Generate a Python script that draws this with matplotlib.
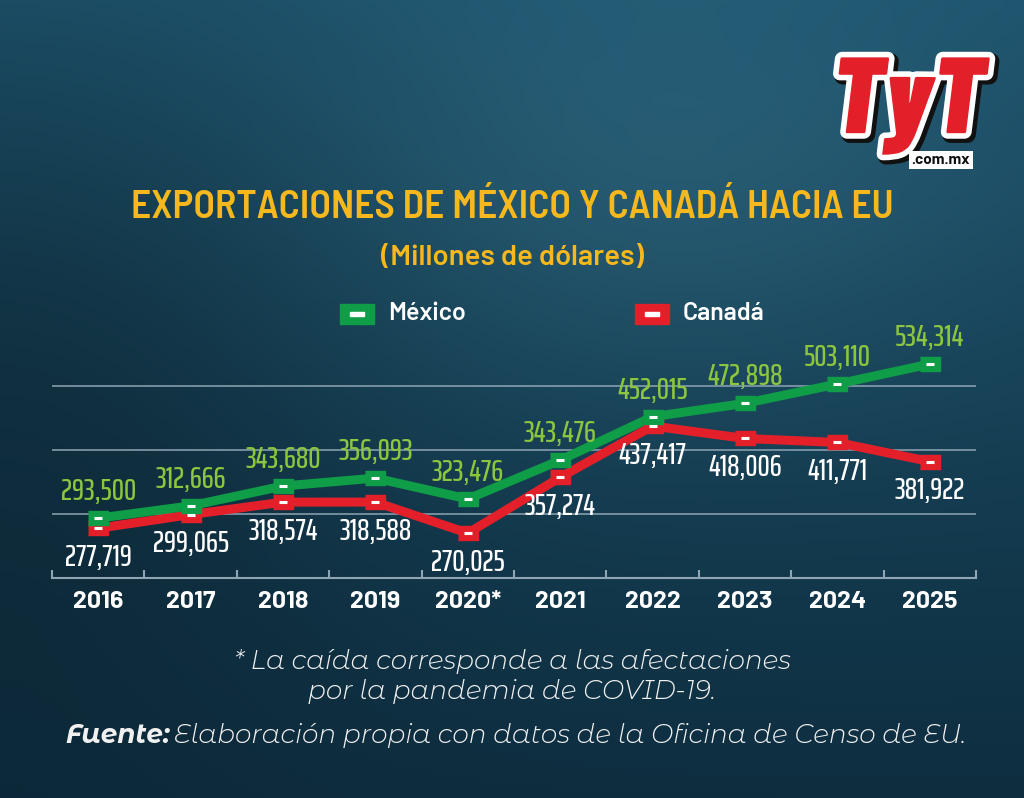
"""Exportaciones de México y Canadá hacia EU (line chart recreation)."""

from matplotlib import pyplot
from matplotlib import patheffects
from matplotlib.patches import Rectangle
import numpy

years = ['2016', '2017', '2018', '2019', '2020*', '2021', '2022', '2023',
         '2024', '2025']
# plotted positions (2021 Mexico point sits near 384k
# although its label reads 343,476)
mexico = [293500, 312666, 343680, 356093, 323476, 384000, 452015, 472898,
          503110, 534314]
mexico_labels = ['293,500', '312,666', '343,680', '356,093', '323,476',
                 '343,476', '452,015', '472,898', '503,110', '534,314']
canada = [277719, 299065, 318574, 318588, 270025, 357274, 437417, 418006,
          411771, 381922]
canada_labels = ['277,719', '299,065', '318,574', '318,588', '270,025',
                 '357,274', '437,417', '418,006', '411,771', '381,922']
gridlines = [300000, 400000, 500000]

green = '#0f9d47'
green_text = '#8cc63f'
red = '#e3202a'
yellow = '#f6b81c'
grid_color = '#8fa5b3'
xnarrow = ['Saira ExtraCondensed', 'Barlow Condensed', 'DejaVu Sans']
narrow = ['Barlow Semi Condensed', 'Barlow Condensed', 'DejaVu Sans']
din = ['Barlow', 'Roboto', 'DejaVu Sans']
gothic = ['Montserrat Alternates', 'Lato', 'DejaVu Sans']

W, H = 1024, 798
fig = pyplot.figure(figsize=(W / 100, H / 100), dpi=100)

# Background gradient.
bg = fig.add_axes([0, 0, 1, 1])
bg.set_axis_off()
yy, xx = numpy.mgrid[0:1:200j, 0:1:256j]
top = numpy.array([0x1d, 0x52, 0x6b]) / 255
bottom = numpy.array([0x0e, 0x2e, 0x40]) / 255
t = yy[..., None] ** 0.9
img = top * (1 - t) + bottom * t
glow = numpy.exp(-(((xx - 0.65) / 0.35) ** 2 + ((yy - 0.22) / 0.30) ** 2))
img = img + glow[..., None] * numpy.array([0.05, 0.07, 0.07])
img = img * (1 - 0.25 * numpy.exp(-(((xx - 0.0) / 0.35) ** 2
                                   + ((yy - 0.55) / 0.5) ** 2)))[..., None]
bg.imshow(numpy.clip(img, 0, 1), extent=[0, 1, 0, 1], aspect='auto',
          origin='upper')
bg.set_xlim(0, 1)
bg.set_ylim(0, 1)

# Main chart axes.
ax = fig.add_axes([52 / W, 1 - 578 / H, (976 - 52) / W, (578 - 322) / H])
ax.patch.set_alpha(0)
x = numpy.arange(len(years))
ax.set_xlim(-0.5, len(years) - 0.5)
ax.set_ylim(200000, 600000)
for g in gridlines:
    ax.axhline(g, color=grid_color, lw=1.1, zorder=1)

box = [(-1.5, -1), (1.5, -1), (1.5, 1), (-1.5, 1)]
for vals, color in [(canada, red), (mexico, green)]:
    ax.plot(x, vals, color=color, lw=6.5, solid_joinstyle='miter', zorder=3)
    ax.plot(x, vals, ls='none', marker=box, ms=15, mfc=color, mec=color,
            zorder=4)
    ax.plot(x, vals, ls='none', marker='_', ms=5.5, mew=2.2, color='white',
            zorder=5)

for xi, m, ml, c, cl in zip(x, mexico, mexico_labels, canada, canada_labels):
    ax.annotate(ml, (xi, m), xytext=(0, 19), textcoords='offset points',
                ha='center', va='center', color=green_text, fontsize=22,
                family=xnarrow, fontweight=500, zorder=6)
    ax.annotate(cl, (xi, c), xytext=(0, -21),
                textcoords='offset points', ha='center', va='center',
                color='white', fontsize=22, family=xnarrow, fontweight=500,
                zorder=6)

for side in ['left', 'right', 'top']:
    ax.spines[side].set_visible(False)
ax.spines['bottom'].set_color(grid_color)
ax.spines['bottom'].set_linewidth(1.5)
ax.set_yticks([])
ax.set_xticks(x)
ax.set_xticklabels(years, color='white', fontsize=18, fontweight='bold',
                   family=din)
ax.tick_params(axis='x', which='major', length=0, pad=9)
ax.set_xticks(numpy.arange(-0.5, len(years)), minor=True)
ax.tick_params(axis='x', which='minor', direction='in', length=6,
               width=1.5, color=grid_color)

# Titles.
fig.text(0.5, 1 - 208 / H, 'EXPORTACIONES DE MÉXICO Y CANADÁ HACIA EU',
         ha='center', va='center', color=yellow, fontsize=28.5,
         fontweight=600, family=narrow)
fig.text(0.5, 1 - 257 / H, '(Millones de dólares)', ha='center',
         va='center', color=yellow, fontsize=21, fontweight=600,
         family=din)

# Legend.
for x0, color, label in [(340, green, 'México'), (635, red, 'Canadá')]:
    fig.patches.append(Rectangle((x0 / W, 1 - 324 / H), 34 / W, 20 / H,
                                 transform=fig.transFigure, color=color))
    fig.patches.append(Rectangle(((x0 + 10) / W, 1 - 315.5 / H), 14 / W,
                                 4 / H, transform=fig.transFigure,
                                 color='white'))
    fig.text((x0 + 48) / W, 1 - 314 / H, label, ha='left', va='center',
             color='white', fontsize=18, fontweight=600, family=din)

# Footnote.
foot = dict(va='center', color='#f0f0f0', fontsize=19, style='italic',
            family=gothic)
fig.text(0.5, 1 - 662 / H, '* La caída corresponde a las afectaciones',
         ha='center', fontweight=300, **foot)
fig.text(0.5, 1 - 692 / H, 'por la pandemia de COVID-19.', ha='center',
         fontweight=300, **foot)
fig.text(174 / W, 1 - 735 / H,
         'Elaboración propia con datos de la Oficina de Censo de EU.',
         ha='left', fontweight=300, **foot)
fig.text(170 / W, 1 - 735 / H, 'Fuente:', ha='right', fontweight='bold',
         **foot)

# Logo.
logo = fig.text(908 / W, 1 - 106 / H, 'TyT', ha='center', va='center',
                color='#e3202a', fontsize=78, fontweight=900,
                style='italic', family=['Barlow Condensed', 'DejaVu Sans'])
logo.set_path_effects([
    patheffects.Stroke(linewidth=10, foreground='#111111', offset=(2, -2)),
    patheffects.Stroke(linewidth=8, foreground='white'),
    patheffects.Normal()])
fig.text(941 / W, 1 - 160 / H, '.com.mx', ha='center', va='center',
         color='#111111', fontsize=11, fontweight='bold', family=din,
         bbox=dict(boxstyle='square,pad=0.15', fc='white', ec='none'))

fig.savefig('out.png', dpi=100)
